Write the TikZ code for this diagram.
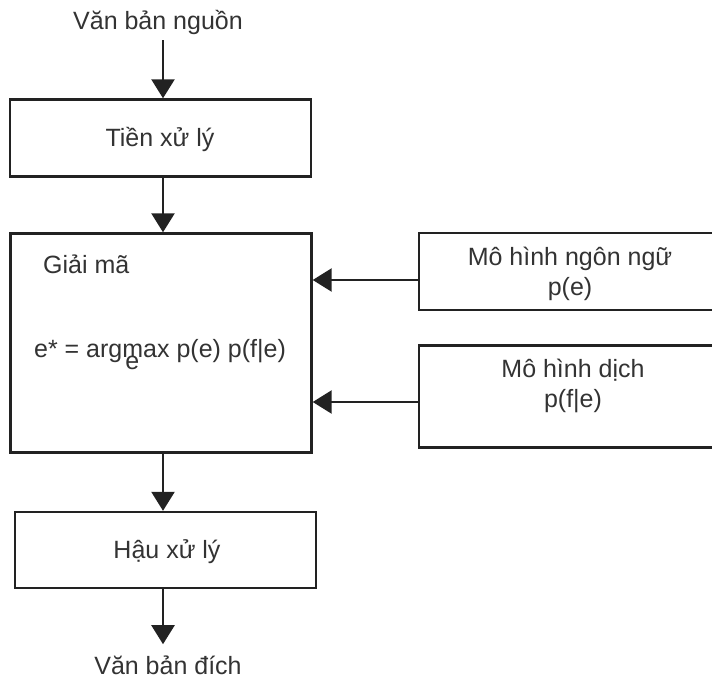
\documentclass[tikz,border=0pt]{standalone}
\usepackage{fontspec}
\setmainfont{Liberation Sans}
\usetikzlibrary{arrows.meta}
\definecolor{ink}{HTML}{222222}
\definecolor{txtc}{HTML}{333333}
\begin{document}
\begin{tikzpicture}[x=1pt,y=-1pt,
  box/.style={draw=ink, line width=2.4pt, inner sep=0pt, minimum width=301pt},
  txt/.style={font=\fontsize{25}{30}\selectfont, text=txtc, inner sep=0pt},
  arr/.style={line width=2.4pt, draw=ink, -{Triangle[width=23pt,length=19pt]}}
]
\useasboundingbox[fill=white] (0,0) rectangle (712,679);
% left column
\node[txt, anchor=base] (src) at (158,30) {Văn bản nguồn};
\node[box, minimum height=77pt] (pre) at (160.5,138) {};
\node[txt] (preT) at (160,139) {Tiền xử lý};
\node[box, minimum height=219pt] (dec) at (161,343) {};
\node[txt, anchor=base west] (decT) at (43,273) {Giải mã};
\node[txt, anchor=base] (form) at (160,357) {e* = arg\rlap{\hspace{3pt}\raisebox{-12.5pt}{e}}max p(e) p(f|e)};
\node[box, minimum height=76pt] (post) at (165.5,550) {};
\node[txt] (postT) at (167,552) {Hậu xử lý};
\node[txt, anchor=base] (tgt) at (168,674) {Văn bản đích};
% right column
\node[box, minimum width=297pt, minimum height=77pt] (lm) at (567.5,271.5) {};
\node[txt, align=center] (lmT) at (570,274) {Mô hình ngôn ngữ\\p(e)};
\node[box, minimum width=297pt, minimum height=102pt] (tm) at (567.5,396.5) {};
\node[txt, align=center] (tmT) at (573,386) {Mô hình dịch\\p(f|e)};
% connectors
\draw[arr, shorten <=5pt] ([xshift=5pt]src.south) -- ([xshift=2.5pt]pre.north);
\draw[arr] ([xshift=2.5pt]pre.south) -- ([xshift=2pt]dec.north);
\draw[arr] ([xshift=2pt]dec.south) -- ([xshift=-2.5pt]post.north);
\coordinate (tgtIn) at ([xshift=-2.5pt, yshift=-55pt]post.south);
\draw[arr] ([xshift=-2.5pt]post.south) -- (tgtIn);
\draw[arr] ([yshift=-8.5pt]lm.west) -- ([yshift=-8.5pt]lm.west -| dec.east);
\draw[arr] ([yshift=-5.5pt]tm.west) -- ([yshift=-5.5pt]tm.west -| dec.east);
\end{tikzpicture}
\end{document}
